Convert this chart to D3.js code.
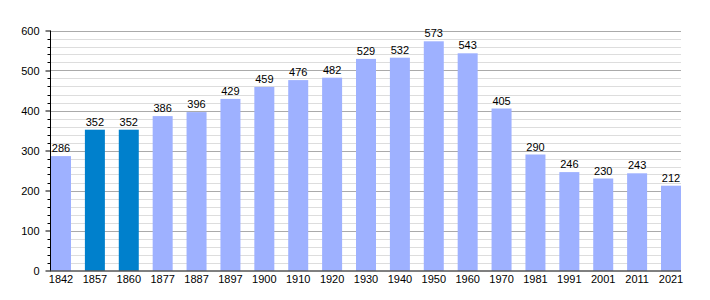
<!DOCTYPE html>
<html>
<head>
<meta charset="utf-8">
<script src="https://cdn.jsdelivr.net/npm/d3@7"></script>
<style>
body { margin: 0; background: #fff; }
svg { display: block; }
</style>
</head>
<body>
<svg width="710" height="300"></svg>
<script>
const years = ['1842', '1857', '1860', '1877', '1887', '1897', '1900', '1910', '1920', '1930',
    '1940', '1950', '1960', '1970', '1981', '1991', '2001', '2011', '2021'];
const population = [286, 352, 352, 386, 396, 429, 459, 476, 482, 529,
    532, 573, 543, 405, 290, 246, 230, 243, 212];
const highlighted = ['1857', '1860'];
const yTicks = [0, 100, 200, 300, 400, 500, 600];

var svg = d3.select("svg");
var plotLeft = 50, plotRight = 681, plotTop = 30.5, plotBottom = 270.5;

var x = d3.scaleBand().domain(years).range([51, 681]).paddingInner(0.41).paddingOuter(0);
var y = d3.scaleLinear().domain([0, 600]).range([plotBottom, plotTop]);
var minorTicks = d3.range(20, 601, 20).filter(d => d % 100 !== 0);

// minor grid every 20
svg.append("g")
    .selectAll("line")
    .data(minorTicks)
    .enter().append("line")
    .attr("x1", plotLeft).attr("x2", plotRight)
    .attr("y1", d => Math.round(y(d)) + 0.5).attr("y2", d => Math.round(y(d)) + 0.5)
    .attr("stroke", "#dddddd");

// major grid
svg.append("g")
    .selectAll("line")
    .data(yTicks.slice(1))
    .enter().append("line")
    .attr("x1", plotLeft).attr("x2", plotRight)
    .attr("y1", d => Math.round(y(d)) + 0.5).attr("y2", d => Math.round(y(d)) + 0.5)
    .attr("stroke", "#aaaaaa");

// bars
svg.append("g")
    .selectAll("rect")
    .data(years)
    .enter().append("rect")
    .attr("x", d => x(d))
    .attr("y", (d, i) => y(population[i]))
    .attr("width", x.bandwidth())
    .attr("height", (d, i) => plotBottom - y(population[i]))
    .attr("fill", d => highlighted.includes(d) ? "#0080cc" : "#9eb1ff");

// value labels
svg.append("g")
    .selectAll("text")
    .data(years)
    .enter().append("text")
    .attr("x", d => x(d) + x.bandwidth() / 2)
    .attr("y", (d, i) => y(population[i]) - 4)
    .attr("text-anchor", "middle")
    .attr("font-family", "Liberation Sans, Arial, sans-serif")
    .attr("font-size", "11px")
    .attr("fill", "#000")
    .text((d, i) => population[i]);

// y axis
var yAxis = svg.append("g")
    .attr("transform", "translate(" + (plotLeft + 0.5) + ",0)")
    .call(d3.axisLeft(y).tickValues(yTicks).tickSize(5).tickPadding(6));
yAxis.select(".domain").attr("stroke", "#000").attr("d", "M0," + plotTop + "V" + plotBottom);
yAxis.selectAll("text")
    .attr("font-family", "Liberation Sans, Arial, sans-serif")
    .attr("font-size", "11px");
// minor ticks
yAxis.append("g")
    .selectAll("line")
    .data(minorTicks)
    .enter().append("line")
    .attr("x1", -3).attr("x2", 0)
    .attr("y1", d => Math.round(y(d)) + 0.5).attr("y2", d => Math.round(y(d)) + 0.5)
    .attr("stroke", "#000");

// x axis
var xAxis = svg.append("g")
    .attr("transform", "translate(0," + plotBottom + ")")
    .call(d3.axisBottom(x).tickSize(0).tickPadding(5));
xAxis.select(".domain").attr("stroke", "#000").attr("d", "M" + plotLeft + ",0.5H" + plotRight);
xAxis.selectAll("text")
    .attr("font-family", "Liberation Sans, Arial, sans-serif")
    .attr("font-size", "11px");
</script>
</body>
</html>
